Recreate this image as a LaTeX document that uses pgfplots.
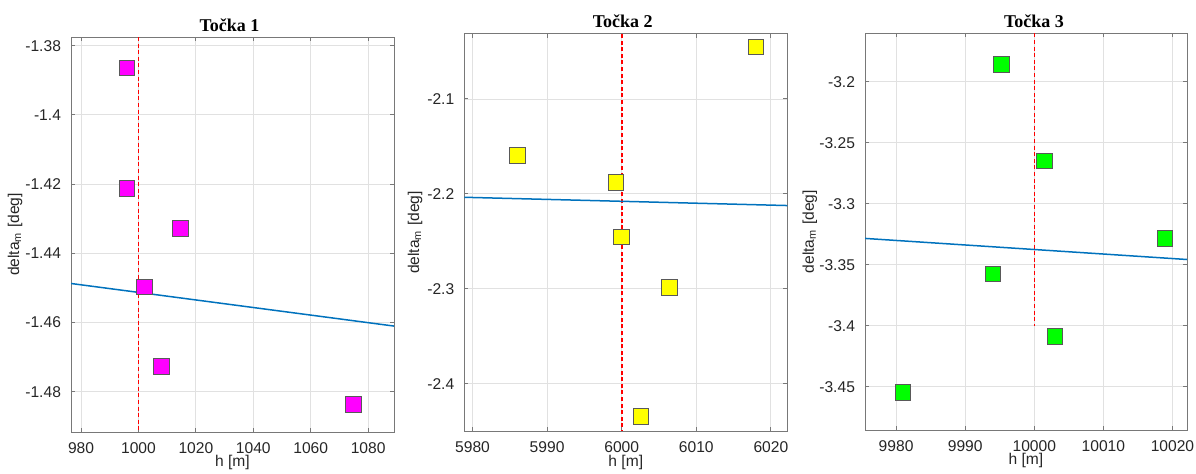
\documentclass[border=0pt]{standalone}
\usepackage{pgfplots}
\pgfplotsset{compat=1.18}
\usepackage{fontspec}
\setmainfont{Liberation Sans}
\newfontfamily\titlefont{Liberation Serif}
\definecolor{mblue}{RGB}{0,114,189}
\definecolor{gridc}{RGB}{225,225,225}
\definecolor{axc}{RGB}{120,120,120}
\definecolor{mmag}{RGB}{255,0,255}
\definecolor{myel}{RGB}{255,255,0}
\definecolor{mgrn}{RGB}{0,255,0}
\definecolor{mred}{RGB}{255,0,0}
\pgfplotsset{
  every axis title shift=0pt,
  mystyle/.style={
    scale only axis,
    /pgf/number format/assume math mode=true,
    /pgf/number format/1000 sep={},
    scaled ticks=false,
    grid=major,
    major grid style={gridc, line width=0.4pt},
    axis line style={axc, line width=0.5pt},
    tick style={axc, line width=0.5pt},
    major tick length=2pt,
    tick align=inside,
    tick pos=both,
    ticklabel style={font=\fontsize{7.8}{9}\selectfont, text=black!85},
    xticklabel style={yshift=-2pt},
    yticklabel style={xshift=-1.5pt},
    title style={font=\titlefont\bfseries\fontsize{9}{10}\selectfont, at={(axis description cs:0.5,1)}, anchor=base, yshift=3pt},
    xlabel={h [m]},
    ylabel={delta\textsubscript{m} [deg]},
    label style={font=\fontsize{7.8}{9}\selectfont, text=black!85},
    xlabel style={at={(axis description cs:0.5,-0.078)}, anchor=center},
    clip mode=individual,
  },
  pts/.style={only marks, mark=square*, mark size=3.9pt, mark options={draw=black!65, line width=0.4pt, fill=#1}},
  fitline/.style={mblue, line width=0.75pt, no marks},
  vline/.style={draw=mred, color=mred, line width=0.75pt, dash pattern=on 2pt off 1.3pt, no marks},
}
\begin{document}
\begin{tikzpicture}
\useasboundingbox (0,0) rectangle (598pt,236.5pt);
% Panel 1
\begin{axis}[mystyle, at={(35.5pt,20.5pt)}, anchor=south west,
  width=161.5pt, height=197.5pt,
  xmin=976.5, xmax=1089, ymin=-1.4916, ymax=-1.3775,
  xtick={980,1000,1020,1040,1060,1080},
  ytick={-1.48,-1.46,-1.44,-1.42,-1.40,-1.38},
  yticklabels={-1.48,-1.46,-1.44,-1.42,-1.4,-1.38},
  title={Točka 1}, title style={xshift=-1.5pt},
  ylabel style={at={(axis description cs:-0.173,0.5)}, anchor=center, rotate=0}]
\addplot[vline] coordinates {(1000,-1.3775) (1000,-1.4916)};
\addplot[fitline] coordinates {(976.5,-1.4487) (1089,-1.4610)};
\addplot[pts=mmag] coordinates {
(996.0,-1.3864) (996.0,-1.4212) (1014.5,-1.4327) (1002.0,-1.4497) (1008.0,-1.4727) (1074.9,-1.4836)};
\end{axis}
% Panel 2
\begin{axis}[mystyle, at={(232.15pt,21pt)}, anchor=south west,
  width=161.5pt, height=198.5pt,
  xmin=5978.9, xmax=6022.2, ymin=-2.4498, ymax=-2.0316,
  xtick={5980,5990,6000,6010,6020},
  ytick={-2.4,-2.3,-2.2,-2.1},
  yticklabels={-2.4,-2.3,-2.2,-2.1},
  title={Točka 2}, title style={xshift=-1.5pt},
  ylabel style={at={(axis description cs:-0.152,0.5)}, anchor=center, rotate=0}]
\addplot[vline, line width=0.85pt] coordinates {(6000,-2.0316) (6000,-2.4498)};
\addplot[fitline] coordinates {(5978.9,-2.2036) (6022.2,-2.2123)};
\addplot[pts=myel] coordinates {
(6018.0,-2.0450) (5986.0,-2.1597) (5999.2,-2.1878) (6000.0,-2.2453) (6006.4,-2.2983) (6002.6,-2.4347)};
\end{axis}
% Panel 3
\begin{axis}[mystyle, at={(432.5pt,21.5pt)}, anchor=south west,
  width=161pt, height=198.3pt,
  xmin=9975.5, xmax=10022.1, ymin=-3.4855, ymax=-3.1603,
  xtick={9980,9990,10000,10010,10020},
  ytick={-3.45,-3.4,-3.35,-3.3,-3.25,-3.2},
  yticklabels={-3.45,-3.4,-3.35,-3.3,-3.25,-3.2},
  title={Točka 3}, title style={xshift=4pt},
  ylabel style={at={(axis description cs:-0.171,0.5)}, anchor=center, rotate=0}]
\addplot[vline] coordinates {(10000,-3.1603) (10000,-3.4)};
\addplot[fitline] coordinates {(9975.5,-3.3284) (10022.1,-3.3457)};
\addplot[pts=mgrn] coordinates {
(9995.2,-3.1857) (10001.5,-3.2650) (10018.9,-3.3284) (9994.0,-3.3574) (10003.0,-3.4088) (9981.0,-3.4549)};
\end{axis}
\end{tikzpicture}
\end{document}
